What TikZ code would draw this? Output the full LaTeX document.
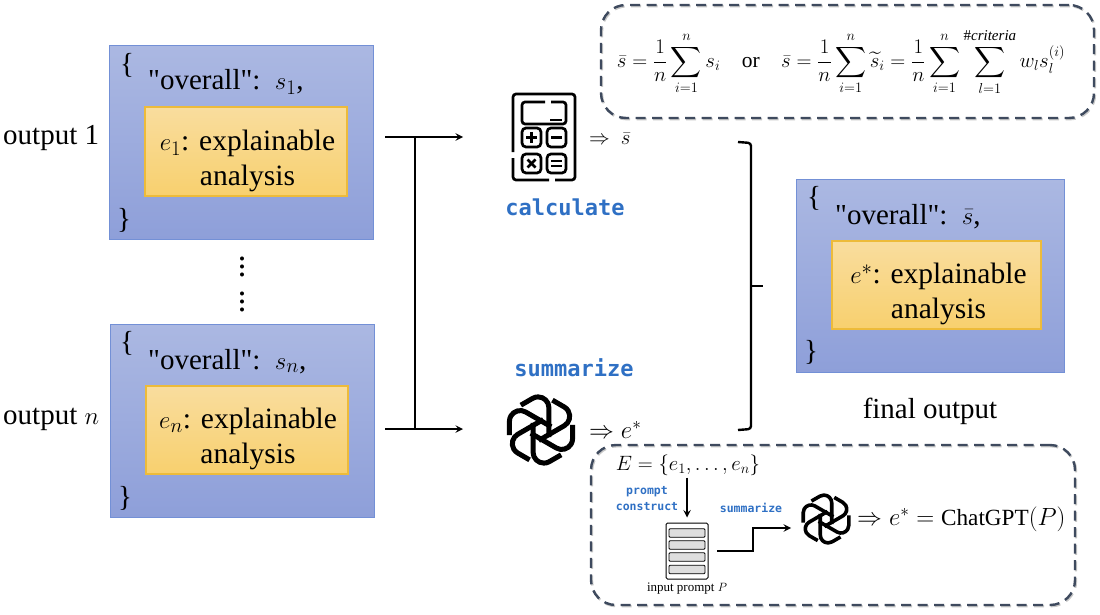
\documentclass[tikz,border=0pt]{standalone}
\usepackage{amssymb, amsmath}
\usepackage{fontspec}
\setmainfont{Liberation Serif}[Ligatures=TeXOff]
\setmonofont{DejaVu Sans Mono}
\usepackage{tikz}
\usetikzlibrary{positioning}

\definecolor{bluetop}{HTML}{ABB8E2}
\definecolor{bluebot}{HTML}{8E9FD9}
\definecolor{blueline}{HTML}{7390D6}
\definecolor{oratop}{HTML}{F9DD9E}
\definecolor{orabot}{HTML}{F8D06E}
\definecolor{oraline}{HTML}{EDBB3A}
\definecolor{dashline}{HTML}{3E4A5E}
\definecolor{codeblue}{HTML}{2F70C4}

\tikzset{
  outerbox/.style={draw=blueline, line width=1pt, top color=bluetop, bottom color=bluebot, inner sep=0pt},
  innerbox/.style={draw=oraline, line width=1.2pt, top color=oratop, bottom color=orabot, inner sep=0pt},
  innertext/.style={align=center, font=\fontsize{29.5}{35}\selectfont, inner sep=0pt},
  dashbox/.style={draw=dashline, line width=2.4pt, dash pattern=on 10pt off 6.5pt, rounded corners=25pt, inner sep=0pt,
    preaction={draw=black!22, transform canvas={xshift=1pt, yshift=-1.2pt}}},
  bigtext/.style={font=\fontsize{29}{33}\selectfont, inner sep=0pt},
  codetext/.style={font=\fontsize{#1}{#1}\selectfont\ttfamily\bfseries, text=codeblue, inner sep=0pt},
  connector/.style={line width=2.2pt},
  iconline/.style={line width=2.7pt},
  gptlogo/.pic={
    \foreach \a in {0, 60, ..., 300} {
      \draw[rotate=\a, line join=round] (0.22, 0.2) -- (0.22, -0.62) arc [start angle=0, end angle=-120, radius=0.3] -- ++(-0.33, 0.19);
    }
  }
}

\begin{document}
\begin{tikzpicture}[x=1pt, y=-1pt]

\useasboundingbox (0, 0) rectangle (1100, 615);

\node[outerbox, minimum width=264pt, minimum height=193pt] (boxone) at (241, 142.5) {};
\node[innerbox, minimum width=202pt, minimum height=89pt] (innerone) at (246, 151.5) {};
\node[innertext] (textone) at (247.5, 161) {$e_1$: explainable\\analysis};
\node[bigtext] (openone) at (127, 65) {\{};
\node[bigtext] (closeone) at (124, 220) {\}};
\node[bigtext, anchor=base west] (scoreone) at (148, 90) {"overall":\ \ $s_1$,};
\node[bigtext, anchor=base west] (labelone) at (3, 145) {output 1};

\node[outerbox, minimum width=264pt, minimum height=193pt] (boxn) at (242, 420.5) {};
\node[innerbox, minimum width=202pt, minimum height=88pt] (innern) at (247, 430) {};
\node[innertext] (textn) at (248, 439) {$e_n$: explainable\\analysis};
\node[bigtext] (openn) at (127, 343) {\{};
\node[bigtext] (closen) at (125, 498) {\}};
\node[bigtext, anchor=base west] (scoren) at (148, 369) {"overall":\ \ $s_n$,};
\node[bigtext, anchor=base west] (labeln) at (3, 424) {output $n$};

\node[scale=2, inner sep=0pt, font=\fontsize{17}{17}\selectfont] (dotsa) at (242, 261) {$\vdots$};
\node[scale=2, inner sep=0pt, font=\fontsize{17}{17}\selectfont] (dotsb) at (242, 296) {$\vdots$};

\coordinate (startone) at (385, 137);
\coordinate (endone) at (463, 137);
\coordinate (startn) at (385, 429);
\coordinate (endn) at (463, 429);
\coordinate (joinone) at (415, 137);
\coordinate (joinn) at (415, 429);
\draw[connector, -stealth] (startone) -- (endone);
\draw[connector, -stealth] (startn) -- (endn);
\draw[connector] (joinone) -- (joinn);

\draw[iconline, rounded corners=3pt] (513, 152) -- (513, 94) -- (575, 94) -- (575, 180) -- (555, 180);
\draw[iconline, rounded corners=3pt] (549, 180) -- (513, 180) -- (513, 158);
\draw[iconline, rounded corners=3pt] (545, 102) -- (522, 102) -- (522, 124) -- (566, 124) -- (566, 102) -- (551, 102);
\draw[iconline] (550, 120) -- (562, 120);
\draw[iconline, rounded corners=4pt] (522, 128) rectangle (541, 147);
\draw[iconline, rounded corners=4pt] (547, 128) rectangle (566, 147);
\draw[iconline, rounded corners=4pt] (522, 154) rectangle (541, 173);
\draw[iconline, rounded corners=4pt] (547, 154) rectangle (566, 173);
\draw[iconline] (526, 137.5) -- (537, 137.5);
\draw[iconline] (531.5, 132) -- (531.5, 143);
\draw[iconline] (551, 137.5) -- (562, 137.5);
\draw[iconline] (527.5, 159.5) -- (535.5, 167.5);
\draw[iconline] (535.5, 159.5) -- (527.5, 167.5);
\draw[iconline] (551, 161) -- (562, 161);
\draw[iconline] (551, 166) -- (562, 166);

\node[codetext=22, anchor=center] (calclabel) at (565, 207) {calculate};
\node[codetext=22, anchor=center] (sumlabel) at (574, 368) {summarize};
\node[font=\fontsize{21}{24}\selectfont, anchor=west, inner sep=0pt] (sbarresult) at (589, 139) {$\Rightarrow\ \bar{s}$};
\node[font=\fontsize{23}{26}\selectfont, anchor=west, inner sep=0pt] (eresult) at (589, 430) {$\Rightarrow e^{*}$};

\pic[scale=36, line width=5pt] at (541, 430) {gptlogo};

\node[dashbox, minimum width=493pt, minimum height=113pt] (formulabox) at (847.5, 61.5) {};
\node[font=\fontsize{21.5}{24}\selectfont, inner sep=0pt] (formula) at (841, 62) {$\displaystyle \bar{s}=\frac{1}{n}\sum_{i=1}^{n}s_i$\quad or\quad $\displaystyle \bar{s}=\frac{1}{n}\sum_{i=1}^{n}\widetilde{s}_i=\frac{1}{n}\sum_{i=1}^{n}\sum_{l=1}^{\#\mathit{criteria}}w_l s_l^{(i)}$};

\coordinate (bracetop) at (738, 142);
\coordinate (bracebot) at (738, 430);
\coordinate (bracemid) at (751, 286);
\coordinate (bracetip) at (763, 286);
\draw[line width=2.4pt, rounded corners=3pt] (bracetop) -- (751, 143) -- (751, 429) -- (bracebot);
\draw[line width=2.4pt] (bracemid) -- (bracetip);

\node[outerbox, minimum width=268pt, minimum height=193pt] (boxfinal) at (930, 275.5) {};
\node[innerbox, minimum width=209pt, minimum height=88pt] (innerfinal) at (936.5, 285) {};
\node[innertext] (textfinal) at (938.5, 294) {$e^{*}$: explainable\\analysis};
\node[bigtext] (openfinal) at (814, 198) {\{};
\node[bigtext] (closefinal) at (811, 352) {\}};
\node[bigtext, anchor=base west] (scorefinal) at (835, 224) {"overall":\ \ $\bar{s}$,};
\node[bigtext, anchor=base] (labelfinal) at (930, 418) {final output};

\node[dashbox, minimum width=484pt, minimum height=160pt] (summarybox) at (833, 525) {};
\node[font=\fontsize{20}{22}\selectfont, inner sep=0pt] (setE) at (688, 465) {$E=\{e_1,\dots,e_n\}$};
\node[codetext=11.5] (promptlabel) at (647, 492) {prompt};
\node[codetext=11.5] (constructlabel) at (647, 507) {construct};
\node[draw, line width=1pt, rounded corners=1.5pt, minimum width=42pt, minimum height=56pt, inner sep=0pt] (stack) at (687, 551) {};
\foreach \y/\r in {533/rowa, 545/rowb, 557/rowc, 569.5/rowd} {
  \node[draw, fill=black!13, line width=0.9pt, rounded corners=1pt, minimum width=36pt, minimum height=8.5pt, inner sep=0pt] (\r) at (687, \y) {};
}
\node[font=\fontsize{13}{15}\selectfont, inner sep=0pt] (stacklabel) at (687, 589) {input prompt $P$};
\draw[connector, -stealth, shorten >=5pt] (setE.south -| stack.north) ++(0, 2) -- (stack.north);
\coordinate (stepstart) at (717, 551);
\coordinate (stepend) at (791, 528);
\draw[connector, -stealth] (stepstart) -- (753, 551) -- (753, 528) -- (stepend);
\node[codetext=11.5] (summarizelabel) at (751, 508) {summarize};
\pic[scale=26, line width=3.6pt] at (826, 519) {gptlogo};
\node[font=\fontsize{23.2}{26}\selectfont, anchor=west, inner sep=0pt] (chatgpt) at (857, 519) {$\Rightarrow e^{*}=\mathrm{ChatGPT}(P)$};

\end{tikzpicture}
\end{document}
